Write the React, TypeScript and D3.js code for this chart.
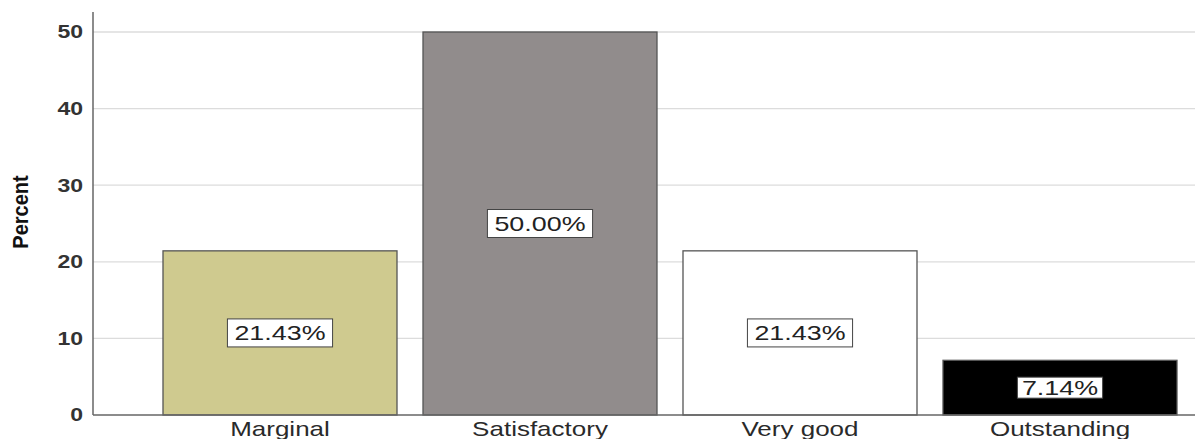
import React from "react";
import * as d3 from "d3";

const categories = ["Marginal", "Satisfactory", "Very good", "Outstanding"];
const percents = [21.43, 50.0, 21.43, 7.14];
const barColors = ["#cfca8f", "#918c8c", "#ffffff", "#000000"];
const yTicks = [0, 10, 20, 30, 40, 50];

const W = 1195;
const H = 439;
const axisX = 93;
const baseY = 415;
const SX = 1.28; // horizontal stretch of the chart's lettering

export default function App() {
  const y = d3.scaleLinear().domain([0, 50]).range([baseY, 32]);
  const x = d3
    .scaleBand<string>()
    .domain(categories)
    .range([150, 1190])
    .paddingInner(0.1)
    .paddingOuter(0.05);

  const font = "'Liberation Sans', Arial, sans-serif";

  // approximate Arial advance widths (em) for the label characters
  const adv = (s: string) =>
    Array.from(s).reduce(
      (a, ch) => a + (ch === "." ? 0.278 : ch === "%" ? 0.889 : 0.556),
      0
    );

  return (
    <svg
      width={W}
      height={H}
      style={{ position: "absolute", left: 0, top: 0, background: "#fff" }}
    >
      {/* gridlines */}
      {yTicks
        .filter((t) => t > 0)
        .map((t) => (
          <line
            key={"g" + t}
            x1={axisX}
            x2={W}
            y1={y(t)}
            y2={y(t)}
            stroke="#dcdcdc"
            strokeWidth={1.3}
          />
        ))}

      {/* bars */}
      {categories.map((c, i) => (
        <rect
          key={c}
          x={x(c)}
          y={y(percents[i])}
          width={x.bandwidth()}
          height={baseY - y(percents[i])}
          fill={barColors[i]}
          stroke="#555"
          strokeWidth={1.3}
        />
      ))}

      {/* axes */}
      <line x1={axisX} x2={axisX} y1={12} y2={baseY} stroke="#666" strokeWidth={1.5} />
      <line x1={axisX} x2={W} y1={baseY} y2={baseY} stroke="#666" strokeWidth={1.5} />

      {/* y tick labels */}
      {yTicks.map((t) => (
        <text
          key={"t" + t}
          transform={`translate(83,${y(t)}) scale(${SX},1)`}
          dy="0.36em"
          textAnchor="end"
          fontFamily={font}
          fontSize={18}
          fontWeight="bold"
          fill="#333"
        >
          {t}
        </text>
      ))}

      {/* y axis title */}
      <text
        transform={`translate(28,212) rotate(-90) scale(1,1.1)`}
        textAnchor="middle"
        fontFamily="'Liberation Sans Narrow', 'Liberation Sans', Arial, sans-serif"
        fontSize={20}
        fontWeight="bold"
        fill="#111"
      >
        Percent
      </text>

      {/* category labels */}
      {categories.map((c) => (
        <text
          key={"c" + c}
          transform={`translate(${(x(c) as number) + x.bandwidth() / 2},436) scale(1.3,1)`}
          textAnchor="middle"
          fontFamily={font}
          fontSize={20}
          fill="#2a2a2a"
        >
          {c}
        </text>
      ))}

      {/* value labels */}
      {categories.map((c, i) => {
        const label = percents[i].toFixed(2) + "%";
        const cx = (x(c) as number) + x.bandwidth() / 2;
        const cy = y(percents[i] / 2);
        const fs = 21;
        const bw = adv(label) * fs * SX + (percents[i] < 10 ? 9 : 14);
        const bh = percents[i] < 10 ? 21 : 28;
        return (
          <g key={"v" + c}>
            <rect
              x={cx - bw / 2}
              y={cy - bh / 2}
              width={bw}
              height={bh}
              fill="#fff"
              stroke="#444"
              strokeWidth={1}
            />
            <text
              transform={`translate(${cx},${cy}) scale(${SX},1)`}
              dy="0.36em"
              textAnchor="middle"
              fontFamily={font}
              fontSize={fs}
              fill="#222"
            >
              {label}
            </text>
          </g>
        );
      })}
    </svg>
  );
}
